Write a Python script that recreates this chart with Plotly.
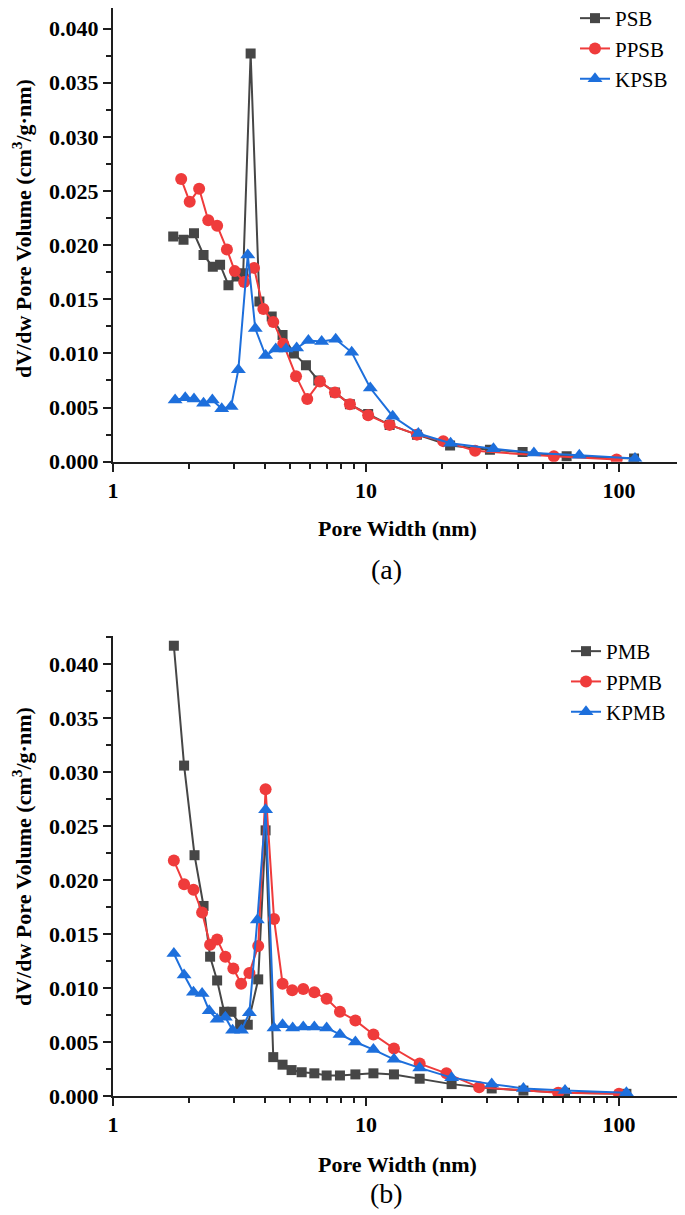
import plotly.graph_objects as go

# page body has an 8px margin, so the figure is placed at (8, 8) inside the 685x1215 window
OFF = 8
W, H = 685 - OFF, 1215 - OFF

# ---------------- data: panel (a) ----------------
psb_x = [1.73, 1.90, 2.09, 2.28, 2.48, 2.65, 2.86, 3.08, 3.27, 3.50, 3.79, 4.24, 4.68, 5.19,
         5.79, 6.48, 7.54, 8.64, 10.2, 12.4, 15.9, 21.5, 30.9, 41.6, 62.1, 114.7]
psb_y = [0.0208, 0.0205, 0.0211, 0.0191, 0.0180, 0.0182, 0.0163, 0.0171, 0.0174, 0.0377,
         0.0148, 0.0134, 0.0117, 0.0100, 0.0089, 0.0075, 0.0064, 0.0053, 0.0044, 0.0034,
         0.0025, 0.0015, 0.0011, 0.0009, 0.0005, 0.0003]

ppsb_x = [1.86, 2.01, 2.19, 2.38, 2.58, 2.82, 3.03, 3.30, 3.61, 3.93, 4.30, 4.71, 5.29, 5.86,
          6.58, 7.54, 8.64, 10.2, 12.4, 15.9, 20.2, 27.0, 55.3, 97.9]
ppsb_y = [0.0261, 0.0240, 0.0252, 0.0223, 0.0218, 0.0196, 0.0176, 0.0166, 0.0179, 0.0141,
          0.0129, 0.0109, 0.0079, 0.0058, 0.0074, 0.0064, 0.0053, 0.0043, 0.0034, 0.0025,
          0.0019, 0.0010, 0.0005, 0.0002]

kpsb_x = [1.76, 1.93, 2.09, 2.28, 2.47, 2.69, 2.93, 3.13, 3.41, 3.65, 4.01, 4.40, 4.83, 5.32,
          5.92, 6.68, 7.59, 8.78, 10.4, 12.75, 16.1, 21.6, 31.9, 46.1, 69.7, 115.7]
kpsb_y = [0.0057, 0.0059, 0.0058, 0.0054, 0.0057, 0.0049, 0.0051, 0.0085, 0.0191, 0.0123,
          0.0098, 0.0104, 0.0104, 0.0105, 0.0112, 0.0111, 0.0113, 0.0101, 0.0068, 0.0042,
          0.0026, 0.0017, 0.0012, 0.0008, 0.0006, 0.0003]

# ---------------- data: panel (b) ----------------
pmb_x = [1.74, 1.91, 2.10, 2.28, 2.42, 2.58, 2.75, 2.94, 3.18, 3.41, 3.75, 4.01, 4.30, 4.68,
         5.08, 5.57, 6.25, 6.99, 7.89, 9.08, 10.7, 12.9, 16.3, 21.8, 31.4, 41.9, 61.2, 107]
pmb_y = [0.0417, 0.0306, 0.0223, 0.0176, 0.0129, 0.0107, 0.0078, 0.0078, 0.0066, 0.0066,
         0.0108, 0.0246, 0.0036, 0.0029, 0.0024, 0.0022, 0.0021, 0.0019, 0.0019, 0.0020,
         0.0021, 0.0020, 0.0016, 0.0011, 0.0007, 0.0005, 0.0003, 0.0002]

ppmb_x = [1.74, 1.91, 2.08, 2.25, 2.42, 2.58, 2.78, 2.99, 3.21, 3.46, 3.75, 4.01, 4.33, 4.68,
          5.11, 5.65, 6.25, 6.99, 7.89, 9.08, 10.7, 12.9, 16.3, 20.8, 28.0, 57.5, 100]
ppmb_y = [0.0218, 0.0196, 0.0191, 0.0170, 0.0140, 0.0145, 0.0129, 0.0118, 0.0104, 0.0114,
          0.0139, 0.0284, 0.0164, 0.0104, 0.0098, 0.0099, 0.0096, 0.0090, 0.0078, 0.0070,
          0.0057, 0.0044, 0.0030, 0.0021, 0.0008, 0.0003, 0.0002]

kpmb_x = [1.74, 1.91, 2.08, 2.25, 2.40, 2.58, 2.78, 2.97, 3.22, 3.46, 3.72, 4.01, 4.33, 4.68,
          5.13, 5.65, 6.25, 6.99, 7.89, 9.08, 10.7, 12.9, 16.3, 21.8, 31.4, 41.9, 61.2, 107]
kpmb_y = [0.0132, 0.0112, 0.0096, 0.0095, 0.0079, 0.0071, 0.0073, 0.0061, 0.0061, 0.0077,
          0.0163, 0.0265, 0.0063, 0.0066, 0.0063, 0.0064, 0.0064, 0.0063, 0.0057, 0.0050,
          0.0043, 0.0034, 0.0026, 0.0017, 0.0011, 0.0007, 0.0005, 0.0003]

x_tick_vals = [1, 10, 100]
x_tick_text = ["1", "10", "100"]

GRAY = "#464646"
RED = "#EF3B3B"
BLUE = "#1D6FDC"
AX = "#1e1e1e"
SERIF = "'Liberation Serif', 'Times New Roman', Times, serif"


def px(x):  # page pixel -> paper x
    return (x - OFF) / W


def py(y):  # page pixel -> paper y
    return 1 - (y - OFF) / H


fig = go.Figure()


def add(x, y, name, color, symbol, size, xa, ya, legend):
    fig.add_trace(go.Scatter(
        x=x, y=y, name=name, mode="lines+markers",
        line=dict(color=color, width=2),
        marker=dict(symbol=symbol, size=size, color=color, line=dict(width=0)),
        xaxis=xa, yaxis=ya, legend=legend,
    ))


add(psb_x, psb_y, "PSB", GRAY, "square", 10, "x", "y", "legend")
add(ppsb_x, ppsb_y, "PPSB", RED, "circle", 12, "x", "y", "legend")
add(kpsb_x, kpsb_y, "KPSB", BLUE, "triangle-up", 13, "x", "y", "legend")

add(pmb_x, pmb_y, "PMB", GRAY, "square", 10, "x2", "y2", "legend2")
add(ppmb_x, ppmb_y, "PPMB", RED, "circle", 12, "x2", "y2", "legend2")
add(kpmb_x, kpmb_y, "KPMB", BLUE, "triangle-up", 13, "x2", "y2", "legend2")

minor_x = [m * 10 ** d for d in range(0, 3) for m in range(2, 10)]

xcommon = dict(
    type="log", range=[0, 2.261], domain=[px(113), 1], automargin=False,
    tickmode="array", tickvals=x_tick_vals, ticktext=x_tick_text,
    ticks="outside", ticklen=8, tickwidth=2, tickcolor=AX,
    showline=True, linewidth=2, linecolor=AX, showgrid=False, zeroline=False,
    minor=dict(tickmode="array", tickvals=minor_x, ticks="outside", ticklen=5,
               tickwidth=2, tickcolor=AX, showgrid=False),
    tickfont=dict(family=SERIF, size=22, color="black", weight="bold"),
)
ycommon = dict(
    tick0=0, dtick=0.005, tickformat=".3f", automargin=False,
    ticks="outside", ticklen=8, tickwidth=2, tickcolor=AX,
    showline=True, linewidth=2, linecolor=AX, showgrid=False, zeroline=False,
    minor=dict(dtick=0.0025, ticks="outside", ticklen=5, tickwidth=2,
               tickcolor=AX, showgrid=False),
    tickfont=dict(family=SERIF, size=22, color="black", weight="bold"),
)

fig.update_layout(
    width=W, height=H,
    margin=dict(l=0, r=0, t=0, b=0, autoexpand=False),
    paper_bgcolor="white", plot_bgcolor="white",
    xaxis=dict(**xcommon, anchor="y"),
    yaxis=dict(**ycommon, range=[0, 0.0419], domain=[py(461.7), 1], anchor="x"),
    xaxis2=dict(**xcommon, anchor="y2"),
    yaxis2=dict(**ycommon, range=[0, 0.0426], domain=[py(1096), py(636)], anchor="x2"),
    legend=dict(x=px(575), y=1 + 10 / H, xanchor="left", yanchor="top",
                font=dict(family=SERIF, size=21, color="black"),
                bgcolor="rgba(0,0,0,0)", tracegroupgap=0),
    legend2=dict(x=px(566), y=py(631), xanchor="left", yanchor="top",
                 font=dict(family=SERIF, size=21, color="black"),
                 bgcolor="rgba(0,0,0,0)", tracegroupgap=0),
    showlegend=True,
)

ytitle = "dV/dw Pore Volume (cm<sup>3</sup>/g·nm)"
xtitle = "Pore Width (nm)"
bold_t = dict(family=SERIF, size=22, color="black", weight="bold")
lab28 = dict(family=SERIF, size=28, color="black")

anns = [
    dict(text=ytitle, x=px(22), y=py(229), textangle=-90, font=bold_t),
    dict(text=ytitle, x=px(22), y=py(857), textangle=-90, font=bold_t),
    dict(text=xtitle, x=px(397), y=py(528), font=bold_t),
    dict(text=xtitle, x=px(397), y=py(1164), font=bold_t),
    dict(text="(a)", x=px(386), y=py(570), font=lab28),
    dict(text="(b)", x=px(386), y=py(1193), font=lab28),
]
for a in anns:
    fig.add_annotation(xref="paper", yref="paper", xanchor="center", yanchor="middle",
                       showarrow=False, **a)

fig.write_html("out.html")
